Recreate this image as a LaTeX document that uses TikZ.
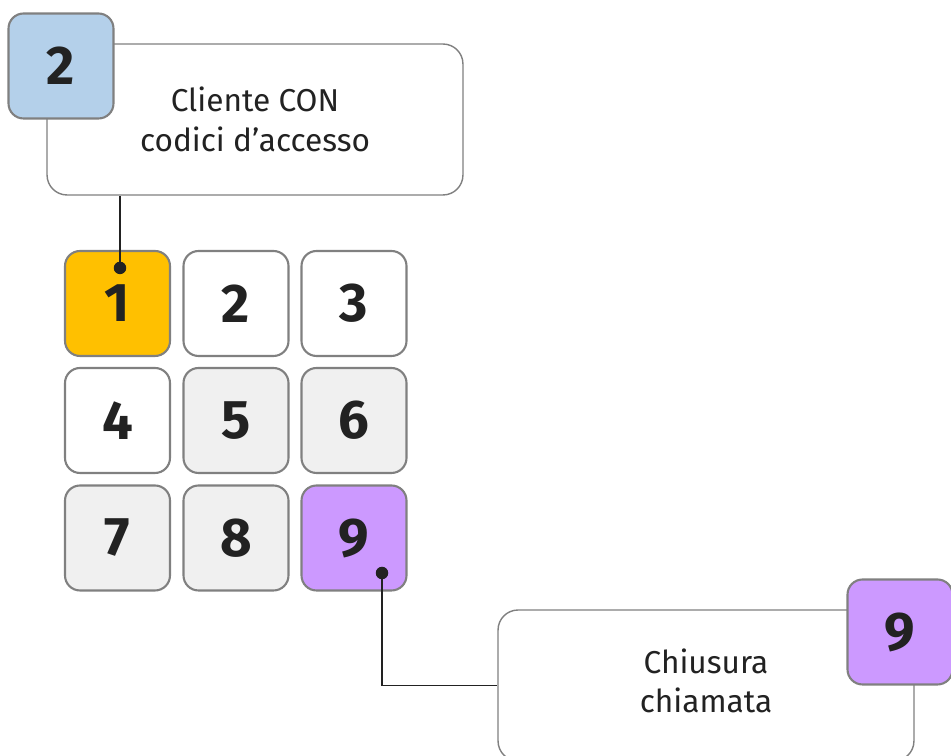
\documentclass[tikz,border=0pt]{standalone}
\usepackage{fontspec}
\setmainfont{Fira Sans}
\usetikzlibrary{positioning,calc}

\definecolor{keygray}{HTML}{808080}
\definecolor{keylight}{HTML}{F0F0F0}
\definecolor{keyyellow}{HTML}{FFC000}
\definecolor{keypurple}{HTML}{CC99FF}
\definecolor{badgeblue}{HTML}{B4D0EA}
\definecolor{inkdark}{HTML}{222222}

\begin{document}
\begin{tikzpicture}
  [
  x=0.02cm, y=-0.02cm,
  key/.style={rectangle, minimum size=2.1cm, draw=keygray, line width=1.2pt, rounded corners=0.3cm, text=inkdark, font=\bfseries\fontsize{31}{34}\selectfont},
  badge/.style={rectangle, minimum size=2.1cm, draw=keygray, line width=1.2pt, rounded corners=0.3cm, text=inkdark, font=\bfseries\fontsize{31}{34}\selectfont},
  callout/.style={rectangle, minimum width=8.32cm, minimum height=3.02cm, draw=keygray, line width=0.8pt, fill=white, rounded corners=0.4cm, align=center, text=inkdark, font=\fontsize{18}{22.5}\selectfont},
  wire/.style={draw=inkdark, line width=0.8pt},
  pin/.style={circle, fill=inkdark, inner sep=0pt, minimum size=0.25cm}
  ]
\useasboundingbox (0,0) rectangle (951,756);

% keypad
\foreach \n/\x/\y/\c in {1/117.5/303.5/keyyellow, 2/236/303.5/white, 3/354/303.5/white,
                         4/117.5/420.5/white, 5/236/420.5/keylight, 6/354/420.5/keylight,
                         7/117.5/538/keylight, 8/236/538/keylight, 9/354/538/keypurple} {
  \node[key, fill=\c] (k\n) at (\x,\y) {\n};
}

% callouts
\node[callout] (access) at (255,119.5) {Cliente CON\\codici d’accesso};
\node[badge, fill=badgeblue] (badgeA) at (61,66) {2};

\node[callout, text depth=0.2cm] (closing) at (706,685.5) {Chiusura\\chiamata};
\node[badge, fill=keypurple] (badgeB) at (900,632) {9};

% connectors
\coordinate (pinA) at ($(k1.north)+(2.5,18)$);
\coordinate (pinB) at ($(k9.center)+(28,35)$);
\draw[wire] (pinA) -- (pinA |- access.south);
\draw[wire] (pinB) |- (closing.west);
\node[pin] (dotA) at (pinA) {};
\node[pin] (dotB) at (pinB) {};

\end{tikzpicture}
\end{document}
